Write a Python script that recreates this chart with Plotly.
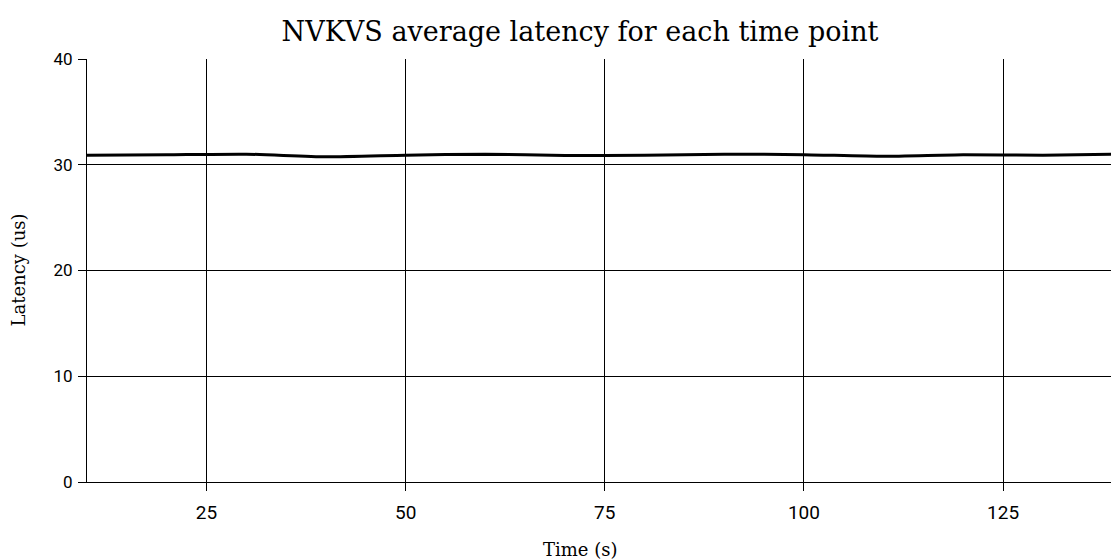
import plotly.graph_objects as go

# Average latency sampled every 10 seconds
time_s = [10, 20, 30, 40, 50, 60, 70, 80, 90, 100, 110, 120, 130, 140]
latency_us = [30.9, 30.95, 31.0, 30.75, 30.9, 31.0, 30.88, 30.9, 31.0, 30.95, 30.8, 30.95, 30.9, 31.0]

x_ticks = [25, 50, 75, 100, 125]
y_ticks = [0, 10, 20, 30, 40]

W, H = 1111, 560
ML, MR, MT, MB = 87, 0, 59, 78

serif = "DejaVu Serif, Liberation Serif, serif"
sans = "Roboto, Inter, sans-serif"

fig = go.Figure()
fig.add_trace(go.Scatter(
    x=time_s, y=latency_us, mode="lines",
    line=dict(color="black", width=3, shape="spline", smoothing=0.6),
    showlegend=False,
))

axis_common = dict(
    showgrid=True, gridcolor="black", gridwidth=1,
    showline=True, linecolor="black", linewidth=1,
    ticks="outside", ticklen=8, tickcolor="black", tickwidth=1,
    zeroline=False, mirror=False,
)

fig.update_xaxes(range=[10, 138.55], tickvals=x_ticks,
                 tickfont=dict(family=sans, size=19, color="black"),
                 ticklabelstandoff=5, **axis_common)
fig.update_yaxes(range=[0, 40], tickvals=y_ticks,
                 tickfont=dict(family=sans, size=17, color="black"),
                 ticklabelstandoff=2, **axis_common)

fig.update_layout(
    width=W, height=H,
    margin=dict(l=ML, r=MR, t=MT, b=MB, pad=0),
    plot_bgcolor="white", paper_bgcolor="white",
    title=dict(text="NVKVS average latency for each time point",
               font=dict(family=serif, size=27, color="black"),
               x=580 / W, xanchor="center", y=1 - 32 / H, yanchor="middle"),
    annotations=[
        dict(text="Time (s)", xref="paper", yref="paper",
             x=(580 - ML) / (W - ML - MR), y=-(549 - (H - MB)) / (H - MT - MB),
             xanchor="center", yanchor="middle", showarrow=False,
             font=dict(family=serif, size=18, color="black")),
        dict(text="Latency (us)", xref="paper", yref="paper",
             x=-(ML - 18) / (W - ML - MR), y=0.5, textangle=-90,
             xanchor="center", yanchor="middle", showarrow=False,
             font=dict(family=serif, size=18, color="black")),
    ],
)

fig.write_html("out.html")
